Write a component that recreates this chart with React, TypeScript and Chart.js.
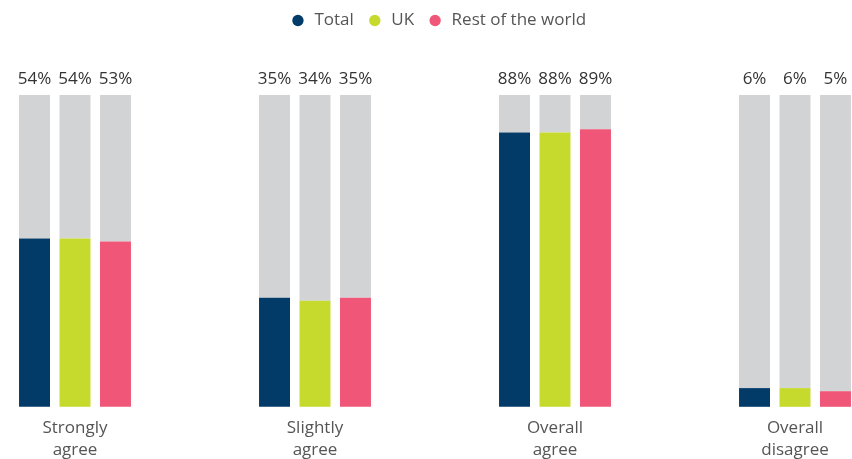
import React, { useEffect, useRef } from "react";
import { Chart, registerables } from "chart.js";

Chart.register(...registerables);

const categories: string[][] = [
  ["Strongly", "agree"],
  ["Slightly", "agree"],
  ["Overall", "agree"],
  ["Overall", "disagree"],
];
const seriesNames = ["Total", "UK", "Rest of the world"];
const totalValues = [54, 35, 88, 6];
const ukValues = [54, 34, 88, 6];
const restValues = [53, 35, 89, 5];
const seriesColors = ["#023a68", "#c6d92d", "#f05677"];
const trackColor = "#d1d3d4";
const FONT = "'Open Sans', 'Noto Sans', sans-serif";

const App: React.FC = () => {
  const canvasRef = useRef<HTMLCanvasElement | null>(null);

  useEffect(() => {
    document.body.style.margin = "0";
    const canvas = canvasRef.current;
    if (!canvas) return;
    const seriesValues = [totalValues, ukValues, restValues];

    const datasets: any[] = [];
    seriesValues.forEach((vals, s) => {
      datasets.push({
        label: seriesNames[s],
        data: vals.map((v, i) => ({ x: i, y: v })),
        backgroundColor: seriesColors[s],
        stack: "s" + s,
        categoryPercentage: 0.506,
        barPercentage: 0.765,
        borderWidth: 0,
        clip: false,
        pointStyle: "circle",
      });
    });
    seriesValues.forEach((vals, s) => {
      datasets.push({
        label: "track" + s,
        data: vals.map((v, i) => ({ x: i, y: 100 - v })),
        backgroundColor: trackColor,
        stack: "s" + s,
        categoryPercentage: 0.506,
        barPercentage: 0.765,
        borderWidth: 0,
        clip: false,
        valueLabels: vals,
      });
    });

    const legendSpacer = {
      id: "legendSpacer",
      beforeInit(chart: any) {
        const orig = chart.legend.fit;
        chart.legend.fit = function () {
          orig.call(this);
          this.height += 56;
        };
      },
    };

    const valueLabels = {
      id: "valueLabels",
      afterDatasetsDraw(chart: any) {
        const ctx = chart.ctx;
        ctx.save();
        ctx.font = `17px ${FONT}`;
        ctx.fillStyle = "#333333";
        ctx.textAlign = "center";
        ctx.textBaseline = "alphabetic";
        chart.data.datasets.forEach((ds: any, di: number) => {
          if (!ds.valueLabels) return;
          const meta = chart.getDatasetMeta(di);
          meta.data.forEach((bar: any, i: number) => {
            ctx.fillText(ds.valueLabels[i] + "%", bar.x, bar.y - 11);
          });
        });
        ctx.restore();
      },
    };

    const chart = new Chart(canvas, {
      type: "bar",
      data: { datasets },
      options: {
        animation: false,
        responsive: false,
        maintainAspectRatio: false,
        layout: { padding: { top: -1, bottom: -12, left: 24, right: 0 } },
        plugins: {
          legend: {
            display: true,
            position: "top",
            labels: {
              filter: (item: any) => !String(item.text).startsWith("track"),
              usePointStyle: true,
              pointStyle: "circle",
              boxWidth: 16,
              boxHeight: 8,
              padding: 13,
              color: "#555555",
              font: { family: FONT, size: 17 },
            },
          },
          tooltip: { enabled: false },
        },
        scales: {
          x: {
            type: "linear",
            stacked: true,
            offset: false,
            min: -0.2125,
            max: 3.2375,
            grid: { display: false, drawTicks: false, offset: false },
            border: { display: false },
            ticks: {
              stepSize: 1,
              includeBounds: false,
              autoSkip: false,
              maxRotation: 0,
              padding: 10,
              color: "#555555",
              font: { family: FONT, size: 17, lineHeight: 1.3 },
              callback: (value: any) => {
                const idx = Math.round(Number(value));
                if (Math.abs(Number(value) - idx) > 1e-6) return "";
                return categories[idx] || "";
              },
            },
          },
          y: {
            stacked: true,
            display: false,
            min: 0,
            max: 100,
          },
        },
      } as any,
      plugins: [legendSpacer, valueLabels],
    });

    return () => chart.destroy();
  }, []);

  return (
    <div style={{ width: 852, height: 459, position: "relative" }}>
      <canvas ref={canvasRef} width={852} height={459} style={{ display: "block" }} />
    </div>
  );
};

export default App;
